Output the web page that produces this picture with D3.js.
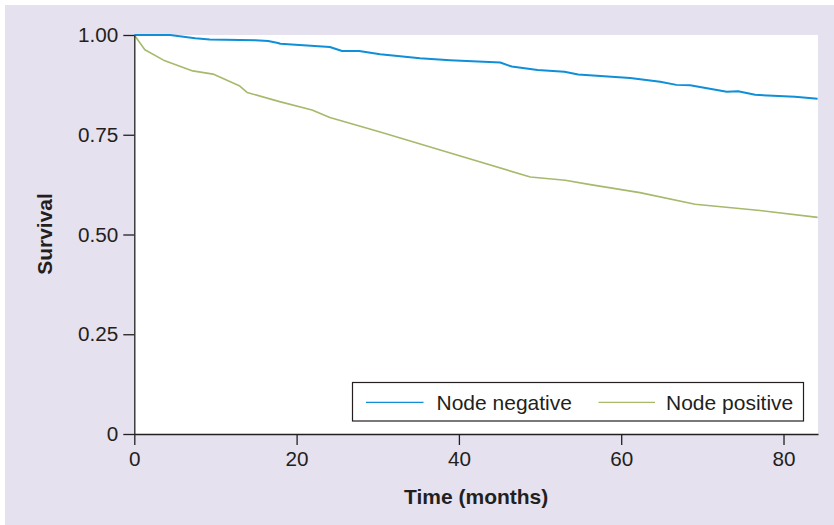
<!DOCTYPE html>
<html>
<head>
<meta charset="utf-8">
<script src="https://cdn.jsdelivr.net/npm/d3@7"></script>
<style>
  body { margin: 0; background: #fff; }
  svg text { font-family: "Liberation Sans", Arial, Helvetica, sans-serif; fill: #231f20; }
</style>
</head>
<body>
<svg id="chart" width="834" height="525"></svg>
<script>
// survival curves (months, survival)
const negTime = [0, 4.4, 7.5, 9.3, 14.9, 16.5, 17.7, 18, 24.1, 25.6, 27.7, 30.3, 35.2, 38.9, 45.1, 46.5, 49.7, 53, 54.7, 61.1, 64.8, 66.8, 68.5, 73, 74.4, 76.5, 81.4, 84.2];
const negSurv = [1.0, 1.0, 0.992, 0.989, 0.987, 0.985, 0.980, 0.978, 0.970, 0.960, 0.960, 0.952, 0.942, 0.937, 0.931, 0.921, 0.912, 0.908, 0.901, 0.892, 0.883, 0.875, 0.874, 0.858, 0.859, 0.850, 0.845, 0.840];

const posTime = [0, 1.3, 3.6, 7.2, 9.7, 13.0, 13.9, 17.9, 21.9, 24.1, 30.3, 37.7, 48.8, 53.1, 56.2, 62.3, 69.1, 77.1, 84.2];
const posSurv = [1.0, 0.963, 0.937, 0.910, 0.902, 0.872, 0.856, 0.833, 0.812, 0.793, 0.757, 0.712, 0.644, 0.636, 0.625, 0.605, 0.576, 0.560, 0.543];

const xTicks = [0, 20, 40, 60, 80];
const yTicks = [0, 0.25, 0.5, 0.75, 1];
const seriesNames = ["Node negative", "Node positive"];
const seriesColors = ["#0e8fd8", "#a6b96c"];

const svg = d3.select("#chart");

// lavender panel
svg.append("rect").attr("x", 5).attr("y", 5).attr("width", 829).attr("height", 520)
   .attr("fill", "#e6e1ef");

const plotLeft = 134.3, plotRight = 818, plotTop = 35, plotBottom = 434;

let x = d3.scaleLinear().domain([0, 84.25]).range([plotLeft, plotRight]);
let y = d3.scaleLinear().domain([0, 1]).range([plotBottom, plotTop]);

// white plot area
svg.append("rect").attr("x", plotLeft).attr("y", plotTop)
   .attr("width", plotRight - plotLeft).attr("height", plotBottom - plotTop).attr("fill", "#fff");

let line = d3.line().x(d => x(d[0])).y(d => y(d[1]));

let negData = negTime.map((t, i) => [t, negSurv[i]]);
let posData = posTime.map((t, i) => [t, posSurv[i]]);

svg.append("path").attr("d", line(posData)).attr("fill", "none")
   .attr("stroke", seriesColors[1]).attr("stroke-width", 1.6).attr("stroke-linejoin", "round");
svg.append("path").attr("d", line(negData)).attr("fill", "none")
   .attr("stroke", seriesColors[0]).attr("stroke-width", 2).attr("stroke-linejoin", "round");

// axes
let xAxis = d3.axisBottom(x).tickValues(xTicks).tickSize(11).tickSizeOuter(0).tickPadding(6)
              .tickFormat(d3.format("d"));
let yAxis = d3.axisLeft(y).tickValues(yTicks).tickSize(11).tickSizeOuter(0).tickPadding(5)
              .tickFormat(d => d === 0 ? "0" : d3.format(".2f")(d));

let gx = svg.append("g").attr("transform", `translate(0,${plotBottom})`).call(xAxis);
let gy = svg.append("g").attr("transform", `translate(${plotLeft},0)`).call(yAxis);

[gx, gy].forEach(g => {
  g.select(".domain").attr("stroke", "#231f20").attr("stroke-width", 1.3);
  g.selectAll(".tick line").attr("stroke", "#231f20").attr("stroke-width", 1.3);
  g.selectAll(".tick text").attr("font-size", "20.7px")
   .style("font-family", "'Liberation Sans', Arial, sans-serif").attr("fill", "#231f20");
});

// axis titles
svg.append("text").attr("x", (plotLeft + plotRight) / 2).attr("y", 503.5)
   .attr("text-anchor", "middle").attr("font-size", "21px").attr("font-weight", "bold")
   .text("Time (months)");
svg.append("text").attr("transform", "translate(51.5,234) rotate(-90)")
   .attr("text-anchor", "middle").attr("font-size", "21px").attr("font-weight", "bold")
   .text("Survival");

// legend
let lg = svg.append("g");
lg.append("rect").attr("x", 352.5).attr("y", 382.5).attr("width", 451).attr("height", 38.5)
  .attr("fill", "#fff").attr("stroke", "#231f20").attr("stroke-width", 1.2);
let legendX = [[366, 423.5, 436.5], [598.5, 655, 666]];
seriesNames.forEach((name, i) => {
  lg.append("line").attr("x1", legendX[i][0]).attr("x2", legendX[i][1])
    .attr("y1", 402.3).attr("y2", 402.3)
    .attr("stroke", seriesColors[i]).attr("stroke-width", 1.2);
  lg.append("text").attr("x", legendX[i][2]).attr("y", 409.5)
    .attr("font-size", "21px").text(name);
});
</script>
</body>
</html>
